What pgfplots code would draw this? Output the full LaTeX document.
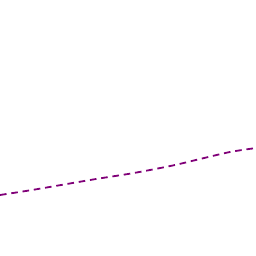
\documentclass[border=0pt]{standalone}
\usepackage{pgfplots}
\pgfplotsset{compat=1.18}
\definecolor{linepurple}{RGB}{128,0,120}
\begin{document}
\begin{tikzpicture}
\begin{axis}[
  width=6cm, height=6cm, scale only axis,
  hide axis, xmin=0, xmax=256, ymin=0, ymax=256, y dir=reverse,
  clip=true,
]
\addplot[color=linepurple, line width=1.2pt, dash pattern=on 4.4pt off 3.2pt, smooth] coordinates {
(0,195) (32,190) (64,184.5) (96,179) (128,174) (150,170) (175,165) (200,159) (230,152) (256,148)
};
\end{axis}
\pgfresetboundingbox
\useasboundingbox (current axis.south west) rectangle (current axis.north east);
\end{tikzpicture}
\end{document}
